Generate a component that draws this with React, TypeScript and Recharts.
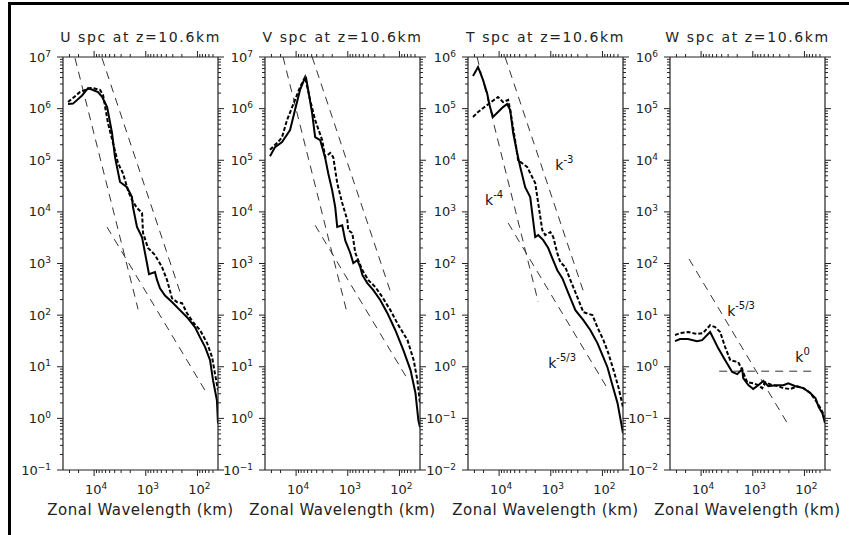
import { LineChart, Line, XAxis, YAxis, ReferenceDot } from 'recharts'

type Pt = [number, number]
type Note = { w: number; v: number; e: string }

// wavelength (km), spectral value
const U_SOLID: Pt[] = [
  [32000, 1.23e6], [25600, 1.25e6], [17100, 1.8e6], [13100, 2.5e6], [10500, 2.3e6], [8400, 2.1e6],
  [7000, 1.7e6], [5600, 1.07e6], [4500, 3.4e5], [3940, 1.15e5], [3150, 3.8e4], [2310, 3.0e4],
  [1850, 1.94e4], [1770, 1.24e4], [1480, 5.1e3], [1180, 3.2e3], [950, 1.02e3], [866, 620],
  [663, 680], [606, 480], [531, 330], [425, 240], [311, 180], [218, 125], [159, 91], [111, 58],
  [89, 37], [71, 24], [57, 13.4], [50, 5.5], [42, 2.25], [40, 0.8],
]
const U_DASH: Pt[] = [
  [32000, 1.34e6], [18700, 2.1e6], [12000, 2.5e6], [10500, 2.5e6], [7700, 2.3e6], [6700, 1.83e6],
  [5400, 5.3e5], [4300, 2.15e5], [3450, 8.8e4], [2760, 5.6e4], [2210, 2.6e4], [1850, 1.7e4],
  [1480, 1.19e4], [1180, 9.5e3], [1130, 3.9e3], [905, 2.0e3], [663, 1.46e3], [485, 850],
  [388, 480], [311, 213], [249, 179], [199, 171], [159, 109], [122, 73], [89, 51], [65, 28.7],
  [52, 15.3], [46, 7.5], [40, 3.5],
]
const U_REFS: Pt[][] = [
  [[23400, 9.5e6], [1410, 130]],
  [[7030, 9.5e6], [218, 283]],
  [[5620, 5070], [71.5, 3.5]],
]

const V_SOLID: Pt[] = [
  [32000, 1.2e5], [25600, 1.8e5], [18700, 2.25e5], [13100, 3.85e5], [10500, 9.4e5], [8400, 2.3e6],
  [7000, 3.6e6], [6400, 3.9e6], [5850, 2.3e6], [4900, 8.2e5], [4280, 2.8e5], [3420, 2.46e5],
  [2730, 1.1e5], [2390, 5.6e4], [2000, 2.6e4], [1750, 1.24e4], [1600, 5.1e3], [1280, 5.5e3],
  [1120, 2.8e3], [895, 1.6e3], [782, 1.02e3], [654, 1.16e3], [572, 850], [523, 600], [419, 417],
  [320, 305], [234, 195], [171, 109], [120, 51], [84, 21], [61, 8.6], [49, 3.1], [43, 0.92],
  [40, 0.67],
]
const V_DASH: Pt[] = [
  [32000, 1.6e5], [22400, 2.25e5], [18700, 2.8e5], [15000, 6.0e5], [10500, 1.47e6], [8400, 2.6e6],
  [6700, 4.1e6], [5350, 1.47e6], [4280, 6.0e5], [3130, 2.46e5], [2730, 1.15e5], [2190, 1.38e5],
  [1910, 1.15e5], [1600, 3.6e4], [1280, 1.48e4], [1020, 6.9e3], [980, 4.4e3], [818, 3.9e3],
  [715, 1.6e3], [523, 745], [400, 477], [292, 349], [214, 223], [150, 125], [105, 64], [70, 33],
  [53, 13.4], [45, 5.5], [40, 1.97],
]
const V_REFS: Pt[][] = [
  [[17900, 1e7], [1050, 118]],
  [[4890, 1e7], [150, 289]],
  [[4280, 5.5e3], [67, 5.4]],
]

const T_SOLID: Pt[] = [
  [32000, 4.3e5], [25600, 6.4e5], [20500, 3.6e5], [17100, 2.0e5], [15000, 1.07e5], [13100, 6.9e4],
  [10500, 8.6e4], [8400, 1.07e5], [7000, 1.23e5], [6100, 9.4e4], [5350, 3.4e4], [4470, 1.38e4],
  [3900, 7.4e3], [3130, 3.0e3], [2500, 1.94e3], [2000, 325], [1750, 355], [1400, 284], [1120, 199],
  [935, 127], [748, 74], [598, 52], [457, 26.7], [334, 12.5], [234, 8.0], [171, 5.1], [125, 2.87],
  [100, 1.68], [80, 0.98], [64, 0.44], [51, 0.197], [40, 0.052],
]
const T_DASH: Pt[] = [
  [32000, 6.9e4], [25600, 8.6e4], [17100, 1.17e5], [10500, 1.68e5], [8400, 1.34e5], [6700, 1.47e5],
  [6100, 9.4e4], [4900, 2.46e4], [4280, 1.0e4], [2860, 7.4e3], [2000, 3.6e3], [1750, 1.48e3],
  [1460, 444], [1280, 355], [1020, 406], [895, 325], [748, 159], [654, 106], [523, 85], [418, 48],
  [306, 22.3], [234, 11.4], [156, 10], [125, 5.8], [96, 3.3], [77, 1.84], [61, 0.86], [49, 0.4],
  [40, 0.165],
]
const T_REFS: Pt[][] = [
  [[26700, 1e6], [1750, 18]],
  [[7660, 1e6], [234, 29]],
  [[6680, 607], [80, 0.38]],
]
const T_NOTES: Note[] = [
  { w: 818, v: 6460, e: '-3' },
  { w: 18700, v: 1355, e: '-4' },
  { w: 1120, v: 0.94, e: '-5/3' },
]

const W_SOLID: Pt[] = [
  [32000, 3.13], [25600, 3.43], [17900, 3.43], [12000, 3.13], [9570, 3.28], [7310, 4.3], [6680, 4.7],
  [5850, 3.6], [4680, 2.3], [3420, 1.34], [2500, 0.79], [2000, 0.72], [1600, 0.9], [1530, 0.6],
  [1220, 0.44], [980, 0.37], [782, 0.44], [625, 0.53], [500, 0.42], [366, 0.44], [256, 0.44],
  [205, 0.48], [150, 0.42], [105, 0.385], [77, 0.31], [61, 0.246], [53, 0.165], [45, 0.126],
  [40, 0.081],
]
const W_DASH: Pt[] = [
  [32000, 4.1], [25600, 4.5], [17900, 4.7], [12000, 4.3], [9150, 4.5], [6680, 6.4], [5350, 5.85],
  [4280, 4.7], [3420, 2.4], [2730, 1.34], [1910, 1.23], [1600, 0.86], [1280, 0.5], [980, 0.48],
  [782, 0.44], [654, 0.385], [572, 0.5], [418, 0.44], [320, 0.42], [256, 0.385], [187, 0.37],
  [137, 0.42], [105, 0.385], [77, 0.31], [61, 0.225], [49, 0.158], [40, 0.105],
]
const W_REFS: Pt[][] = [
  [[17100, 122], [205, 0.075]],
  [[4470, 0.82], [70, 0.82]],
]
const W_NOTES: Note[] = [
  { w: 3130, v: 9.6, e: '-5/3' },
  { w: 150, v: 1.23, e: '0' },
]

const TITLES = ['U spc at z=10.6km', 'V spc at z=10.6km', 'T spc at z=10.6km', 'W spc at z=10.6km']
const X_LABEL = 'Zonal Wavelength (km)'

const X_DOMAIN = [40, 40000]
const X_TICKS = [
  30000, 20000, 1e4, 9000, 8000, 7000, 6000, 5000, 4000, 3000, 2000, 1e3, 900, 800, 700, 600, 500,
  400, 300, 200, 1e2, 90, 80, 70, 60, 50,
]
const Y_MAJOR_UV = [1e-1, 1, 1e1, 1e2, 1e3, 1e4, 1e5, 1e6, 1e7]
const Y_MAJOR_TW = [1e-2, 1e-1, 1, 1e1, 1e2, 1e3, 1e4, 1e5, 1e6]

const FONT = '"DejaVu Sans", sans-serif'
const INK = '#222'
const AXIS_L = 60
const AXIS_R = 15
const PLOT_W = 155
const TOP_H = 57
const BOTTOM_H = 65
const H = 535

function withMinors(majors: number[]) {
  const out: number[] = []
  majors.forEach((m, i) => {
    out.push(m)
    if (i < majors.length - 1) for (let k = 2; k <= 9; k++) out.push(m * k)
  })
  return out
}

const isMajor = (v: number) => Math.abs(Math.log10(v) - Math.round(Math.log10(v))) < 1e-6
const expOf = (v: number) => {
  const e = Math.round(Math.log10(v))
  return e < 0 ? '\u2212' + -e : String(e)
}
const toRows = (pts: Pt[]) => pts.map(([w, v]) => ({ w, v }))

function Pow({ x, y, v, anchor }: { x: number; y: number; v: number; anchor: 'middle' | 'end' }) {
  return (
    <text x={x} y={y} textAnchor={anchor} fontFamily={FONT} fontSize={13} fill={INK}>
      10<tspan dy={-5} fontSize={9}>{expOf(v)}</tspan>
    </text>
  )
}

function BottomTick(props: any) {
  const { x, y, payload } = props
  const major = isMajor(payload.value)
  return (
    <g>
      <line x1={x} x2={x} y1={y} y2={y + (major ? 6 : 3)} stroke={INK} />
      {major && <Pow x={x + 2} y={y + 24} v={payload.value} anchor="middle" />}
    </g>
  )
}

function TopTick(props: any) {
  const { x, y, payload } = props
  const major = isMajor(payload.value)
  return <line x1={x} x2={x} y1={y} y2={y - (major ? 6 : 3)} stroke={INK} />
}

function LeftTick(props: any) {
  const { x, y, payload } = props
  const major = isMajor(payload.value)
  return (
    <g>
      <line x1={x} x2={x - (major ? 6 : 3)} y1={y} y2={y} stroke={INK} />
      {major && <Pow x={x - 12} y={y + 4.5} v={payload.value} anchor="end" />}
    </g>
  )
}

function RightTick(props: any) {
  const { x, y, payload } = props
  const major = isMajor(payload.value)
  return <line x1={x} x2={x + (major ? 6 : 3)} y1={y} y2={y} stroke={INK} />
}

function KLabel({ cx, cy, e }: { cx: number; cy: number; e: string }) {
  return (
    <text x={cx} y={cy} fontFamily={FONT} fontSize={14} fill="#111" stroke="none">
      k<tspan dy={-7} fontSize={10}>{e}</tspan>
    </text>
  )
}

type PanelDef = {
  left: number
  yMajor: number[]
  solid: Pt[]
  dash: Pt[]
  refs: Pt[][]
  notes: Note[]
}

const PANELS: PanelDef[] = [
  { left: 63, yMajor: Y_MAJOR_UV, solid: U_SOLID, dash: U_DASH, refs: U_REFS, notes: [] },
  { left: 265, yMajor: Y_MAJOR_UV, solid: V_SOLID, dash: V_DASH, refs: V_REFS, notes: [] },
  { left: 468, yMajor: Y_MAJOR_TW, solid: T_SOLID, dash: T_DASH, refs: T_REFS, notes: T_NOTES },
  { left: 670, yMajor: Y_MAJOR_TW, solid: W_SOLID, dash: W_DASH, refs: W_REFS, notes: W_NOTES },
]

const axisLine = { stroke: INK, strokeWidth: 1.2 }

function Panel({ p }: { p: PanelDef }) {
  const yTicks = withMinors(p.yMajor)
  const yDomain = [p.yMajor[0], p.yMajor[p.yMajor.length - 1]]
  return (
    <div style={{ position: 'absolute', left: p.left - AXIS_L, top: 0 }}>
      <LineChart width={AXIS_L + PLOT_W + AXIS_R} height={H} margin={{ top: 0, right: 0, bottom: 0, left: 0 }}>
        <XAxis
          xAxisId="b"
          dataKey="w"
          type="number"
          scale="log"
          domain={X_DOMAIN}
          reversed
          allowDataOverflow
          ticks={X_TICKS}
          interval={0}
          tickSize={0}
          tickMargin={0}
          tickLine={false}
          tick={<BottomTick />}
          height={BOTTOM_H}
          axisLine={axisLine}
        />
        <XAxis
          xAxisId="t"
          orientation="top"
          dataKey="w"
          type="number"
          scale="log"
          domain={X_DOMAIN}
          reversed
          allowDataOverflow
          ticks={X_TICKS}
          interval={0}
          tickSize={0}
          tickMargin={0}
          tickLine={false}
          tick={<TopTick />}
          height={TOP_H}
          axisLine={axisLine}
        />
        <YAxis
          yAxisId="l"
          type="number"
          scale="log"
          domain={yDomain}
          allowDataOverflow
          ticks={yTicks}
          interval={0}
          tickSize={0}
          tickMargin={0}
          tickLine={false}
          tick={<LeftTick />}
          width={AXIS_L}
          axisLine={axisLine}
        />
        <YAxis
          yAxisId="r"
          orientation="right"
          type="number"
          scale="log"
          domain={yDomain}
          allowDataOverflow
          ticks={yTicks}
          interval={0}
          tickSize={0}
          tickMargin={0}
          tickLine={false}
          tick={<RightTick />}
          width={AXIS_R}
          axisLine={axisLine}
        />
        {p.refs.map((r, i) => (
          <Line
            key={'r' + i}
            xAxisId="b"
            yAxisId="l"
            data={toRows(r)}
            dataKey="v"
            type="linear"
            stroke="#333"
            strokeWidth={1}
            strokeDasharray="8 6"
            dot={false}
            isAnimationActive={false}
          />
        ))}
        <Line
          xAxisId="b"
          yAxisId="l"
          data={toRows(p.dash)}
          dataKey="v"
          type="linear"
          stroke="#000"
          strokeWidth={2}
          strokeDasharray="4 2"
          dot={false}
          isAnimationActive={false}
        />
        <Line
          xAxisId="b"
          yAxisId="l"
          data={toRows(p.solid)}
          dataKey="v"
          type="linear"
          stroke="#000"
          strokeWidth={2}
          dot={false}
          isAnimationActive={false}
        />
        {p.notes.map((n, i) => (
          <ReferenceDot
            key={'n' + i}
            xAxisId="b"
            yAxisId="l"
            x={n.w}
            y={n.v}
            r={0}
            ifOverflow="visible"
            shape={(s: any) => <KLabel cx={s.cx} cy={s.cy} e={n.e} />}
          />
        ))}
      </LineChart>
    </div>
  )
}

export default function App() {
  return (
    <div style={{ position: 'absolute', left: 0, top: 0, width: 849, height: H, background: '#fff', overflow: 'hidden' }}>
      <div
        style={{
          position: 'absolute',
          left: 8,
          top: 2,
          width: 900,
          height: 600,
          borderLeft: '3px solid #000',
          borderTop: '3px solid #000',
        }}
      />
      {PANELS.map((p, i) => (
        <Panel key={i} p={p} />
      ))}
      <svg width={849} height={H} style={{ position: 'absolute', left: 0, top: 0, pointerEvents: 'none' }}>
        {PANELS.map((p, i) => (
          <g key={i}>
            <text
              x={p.left + PLOT_W / 2}
              y={42}
              textAnchor="middle"
              fontFamily={FONT}
              fontSize={14}
              fill={INK}
              style={{ letterSpacing: 1.6 }}
            >
              {TITLES[i]}
            </text>
            <text
              x={p.left + PLOT_W / 2}
              y={515}
              textAnchor="middle"
              fontFamily={FONT}
              fontSize={15}
              fill={INK}
              style={{ letterSpacing: 0.5 }}
            >
              {X_LABEL}
            </text>
          </g>
        ))}
      </svg>
    </div>
  )
}
